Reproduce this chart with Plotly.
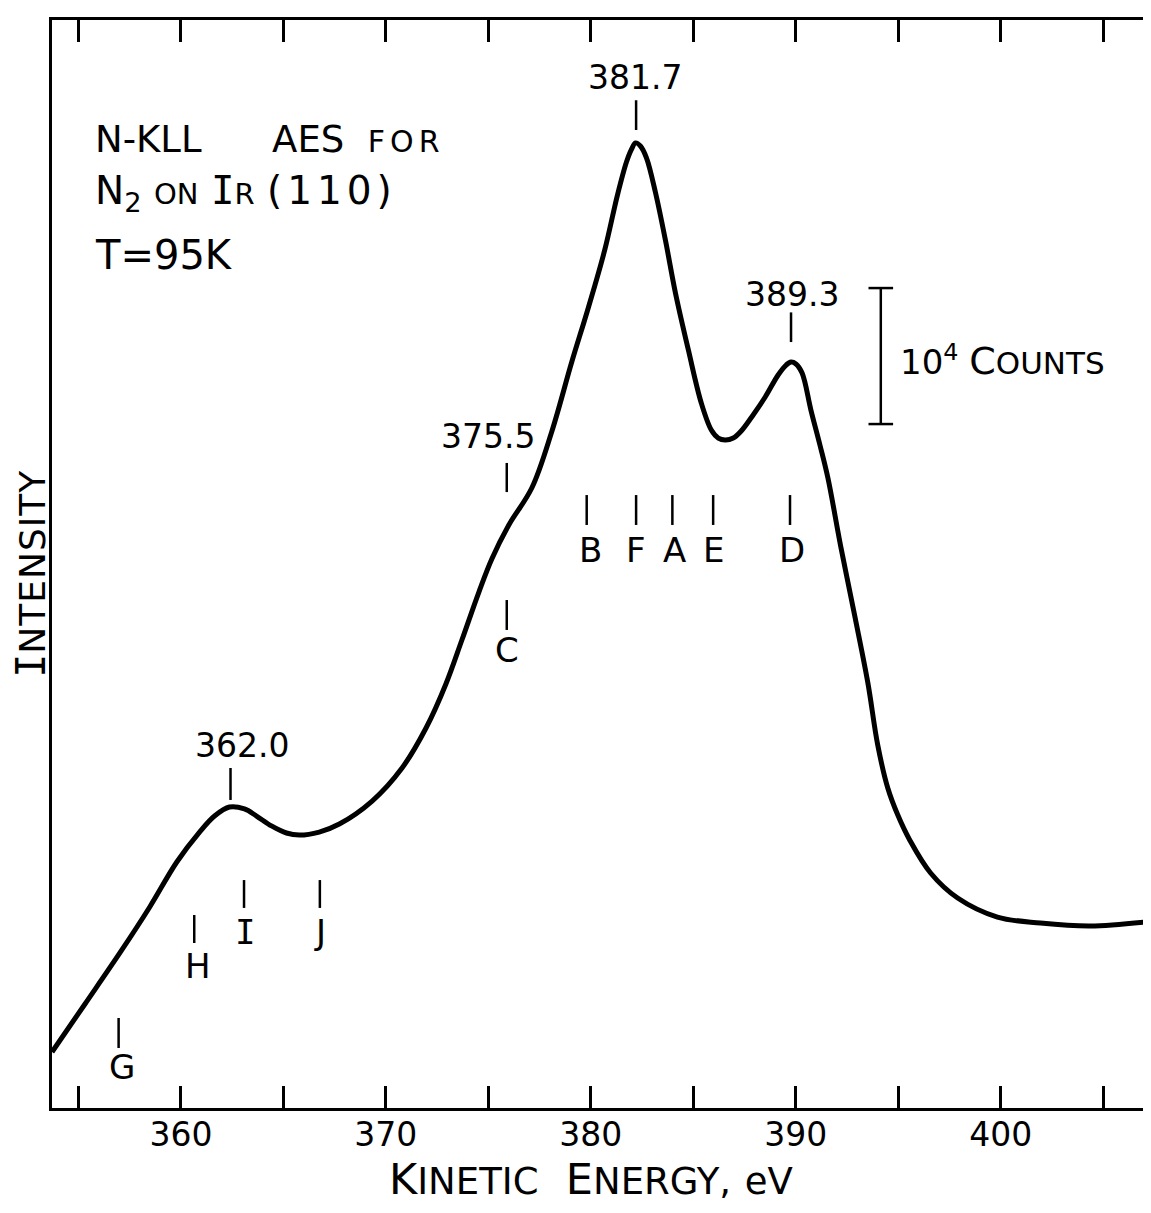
import plotly.graph_objects as go

# ---- spectrum (kinetic energy in eV, intensity in units of 10^3 counts above frame bottom)
energy = [353.71, 355.32, 357.02, 358.48, 359.80, 360.91, 361.64, 362.37, 363.10, 363.69,
          364.42, 365.15, 365.78, 366.75, 367.73, 369.33, 370.79, 371.96, 372.93, 373.71,
          374.54, 375.17, 376.00, 377.12, 378.09, 379.07, 379.89, 380.68, 381.30, 381.74,
          381.99, 382.18, 382.42, 382.72, 383.15, 383.64, 384.13, 384.76, 385.39, 385.88,
          386.22, 386.56, 386.95, 387.34, 387.92, 388.51, 389.14, 389.53, 389.77, 390.01,
          390.31, 390.74, 391.18, 391.57, 392.20, 392.89, 393.52, 394.00, 394.49, 394.98,
          395.56, 396.58, 397.90, 399.84, 401.94, 404.37, 407.09]
intensity = [4.12, 7.65, 11.40, 14.78, 18.09, 20.29, 21.47, 22.13, 21.99, 21.47,
             20.74, 20.22, 20.07, 20.29, 20.88, 22.57, 25.00, 27.94, 31.18, 34.41,
             37.94, 40.37, 42.87, 45.59, 49.71, 54.85, 58.90, 63.09, 67.13, 69.56,
             70.51, 70.96, 70.74, 69.85, 67.35, 63.82, 59.93, 55.74, 51.84, 49.85,
             49.26, 49.12, 49.26, 49.78, 50.96, 52.28, 53.90, 54.63, 54.85, 54.71,
             54.04, 51.32, 48.75, 46.32, 41.25, 36.10, 31.25, 26.69, 23.53, 21.54,
             19.71, 17.28, 15.44, 14.04, 13.60, 13.38, 13.68]

# ---- peak value labels
peak_labels = ["381.7", "389.3", "375.5", "362.0"]
peak_label_x = [382.16, 389.81, 374.97, 362.96]
peak_label_y = [75.74, 59.85, 49.34, 26.69]
peak_tick_x = [382.21, 389.77, 375.90, 362.42]
peak_tick_lo = [71.91, 56.32, 45.29, 22.65]
peak_tick_hi = [74.10, 58.50, 47.43, 25.00]

# ---- assignment letters
letters = ["B", "F", "A", "E", "D", "C", "H", "I", "J", "G"]
letter_x = [380.00, 382.20, 384.08, 385.97, 389.81, 375.90, 360.82, 363.15, 366.80, 357.12]
letter_y = [41.03, 41.03, 41.03, 41.03, 41.03, 33.68, 10.44, 12.94, 12.94, 3.01]
letter_tick_x = [379.80, 382.21, 383.98, 385.97, 389.72, 375.90, 360.65, 363.08, 366.78, 356.96]
letter_tick_lo = [42.87, 42.87, 42.87, 42.87, 42.87, 35.15, 12.13, 14.71, 14.71, 4.41]
letter_tick_hi = [45.07, 45.07, 45.07, 45.07, 45.07, 37.35, 14.19, 16.76, 16.76, 6.62]

# ---- scale bar (10^4 counts = 10 units)
scale_x = 394.15
scale_lo = 50.29
scale_hi = 60.29
scale_cap = 0.6

# ---- axis ticks
x_label_vals = [360, 370, 380, 390, 400]
x_label_text = ["360", "370", "380", "390", "400"]
x_minor_vals = [355, 365, 375, 385, 395, 405]

FONT = "DejaVu Sans"
SERIF_I = "<span style='font-family:DejaVu Sans Mono'>I</span>"
SP = "\u00a0"

fig = go.Figure()

fig.add_trace(go.Scatter(
    x=energy, y=intensity, mode="lines",
    line=dict(color="black", width=5, shape="spline", smoothing=1.0),
    hoverinfo="skip", showlegend=False))

# short marker ticks (peaks + letters) as one segmented trace
seg_x, seg_y = [], []
for xv, lo, hi in zip(peak_tick_x + letter_tick_x, peak_tick_lo + letter_tick_lo, peak_tick_hi + letter_tick_hi):
    seg_x += [xv, xv, None]
    seg_y += [lo, hi, None]
fig.add_trace(go.Scatter(x=seg_x, y=seg_y, mode="lines",
                         line=dict(color="black", width=2.5),
                         hoverinfo="skip", showlegend=False))

# scale bar
fig.add_trace(go.Scatter(
    x=[scale_x, scale_x, None, scale_x - scale_cap, scale_x + scale_cap, None, scale_x - scale_cap, scale_x + scale_cap],
    y=[scale_lo, scale_hi, None, scale_hi, scale_hi, None, scale_lo, scale_lo],
    mode="lines", line=dict(color="black", width=2.5), hoverinfo="skip", showlegend=False))

annotations = []
for t, xv, yv in zip(peak_labels, peak_label_x, peak_label_y):
    annotations.append(dict(x=xv, y=yv, xref="x", yref="y", text=t, showarrow=False,
                            xanchor="center", yanchor="middle",
                            font=dict(family=FONT, size=33, color="black")))
for t, xv, yv in zip(letters, letter_x, letter_y):
    txt = SERIF_I if t == "I" else t
    annotations.append(dict(x=xv, y=yv, xref="x", yref="y", text=txt, showarrow=False,
                            xanchor="center", yanchor="middle",
                            font=dict(family=FONT, size=34, color="black")))

# title block
annotations.append(dict(x=355.71, y=71.18, xref="x", yref="y", showarrow=False,
                        xanchor="left", yanchor="middle",
                        text="N-KLL" + SP * 6 + "AES" + SP * 2 +
                             "<span style='font-size:30px;letter-spacing:5px'>FOR</span>",
                        font=dict(family=FONT, size=37, color="black")))
annotations.append(dict(x=355.71, y=67.3, xref="x", yref="y", showarrow=False,
                        xanchor="left", yanchor="middle",
                        text="N<sub>2</sub>" + SP + "<span style='font-size:29px'>ON</span>" + SP + SERIF_I +
                             "<span style='font-size:29px'>R</span>" + SP +
                             "<span style='letter-spacing:5px'>(110)</span>",
                        font=dict(family=FONT, size=39, color="black")))
annotations.append(dict(x=355.71, y=62.72, xref="x", yref="y", showarrow=False,
                        xanchor="left", yanchor="middle",
                        text="T=95K",
                        font=dict(family=FONT, size=40, color="black")))

# scale bar label
annotations.append(dict(x=394.98, y=55.0, xref="x", yref="y", showarrow=False,
                        xanchor="left", yanchor="middle",
                        text="10<sup>4</sup> <span style='font-size:38px'>C</span><span style='font-size:31px'>OUNTS</span>",
                        font=dict(family=FONT, size=34, color="black")))

# axis titles
annotations.append(dict(x=0.493, y=-0.0653, xref="paper", yref="paper", showarrow=False,
                        xanchor="center", yanchor="middle",
                        text="K<span style='font-size:37px'>INETIC</span>" + SP * 2 +
                             "E<span style='font-size:37px'>NERGY,</span>" + SP +
                             "<span style='font-size:37px'>eV</span>",
                        font=dict(family=FONT, size=43, color="black")))
annotations.append(dict(x=-0.0192, y=0.491, xref="paper", yref="paper", showarrow=False,
                        xanchor="center", yanchor="middle", textangle=-90,
                        text=SERIF_I.replace("'font-family", "'font-size:40px;font-family") +
                             "<span style='letter-spacing:1px'>NTENSITY</span>",
                        font=dict(family=FONT, size=36, color="black")))

# page body has an 8 px default margin: size the figure so the page is exactly 1151 x 1213
fig.update_layout(
    width=1143, height=1197,
    margin=dict(l=44, r=2, t=12, b=97),
    paper_bgcolor="white", plot_bgcolor="white",
    annotations=annotations,
    showlegend=False,
    xaxis=dict(range=[353.71, 407.09], tickvals=x_label_vals, ticktext=x_label_text,
               ticks="inside", ticklen=22, tickwidth=2.5, tickcolor="black",
               minor=dict(tickvals=x_minor_vals, ticks="inside", ticklen=22, tickwidth=2.5,
                          tickcolor="black", showgrid=False),
               showline=True, linewidth=3, linecolor="black", mirror="ticks",
               showgrid=False, zeroline=False, ticklabelstandoff=-5,
               tickfont=dict(family=FONT, size=33, color="black")),
    yaxis=dict(range=[0, 80], showline=True, linewidth=3, linecolor="black", mirror=True,
               ticks="", showticklabels=False, showgrid=False, zeroline=False),
)

fig.write_html("out.html")
